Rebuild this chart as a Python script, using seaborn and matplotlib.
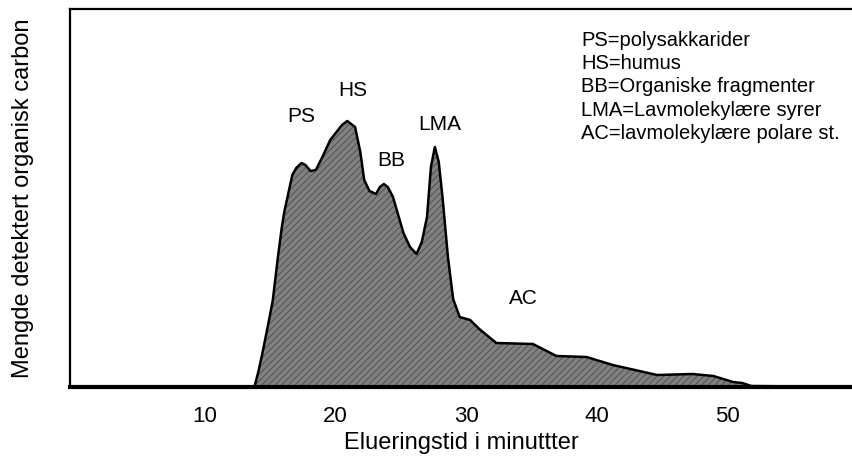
# -*- coding: utf-8 -*-
"""
Kromatogram - organisk carbon vs elueringstid
"""

import matplotlib
matplotlib.use("Agg")
import matplotlib.pyplot as plt
import seaborn as sns

# Elueringstid (min) og signal (vilkaarlige enheter), lest av figuren
time = [0, 13.8, 14.1, 14.4, 14.8, 15.2, 15.6, 15.9, 16.1, 16.5, 16.7, 17.0, 17.4, 17.7,
        18.1, 18.5, 19.0, 19.6, 20.5, 20.9, 21.5, 21.9, 22.2, 22.6, 23.1, 23.4, 23.7,
        24.0, 24.4, 25.2, 25.7, 26.2, 26.6, 27.0, 27.3, 27.6, 27.9, 28.2, 28.6, 29.0,
        29.5, 30.3, 31.0, 32.3, 35.1, 36.9, 39.2, 41.2, 44.6, 47.3, 48.9, 50.4, 51.1,
        51.8, 60]
signal = [0, 0, 15, 33, 59, 86, 130, 160, 176, 200, 212, 219, 224, 222,
          216, 217, 230, 247, 262, 266, 260, 235, 207, 196, 193, 200, 203,
          200, 190, 154, 140, 133, 145, 170, 220, 240, 225, 188, 130, 88,
          70, 67, 58, 44, 43, 31, 30, 22, 12, 13, 11, 5, 4,
          1, 0]

# Topp-etiketter
peak_names = ["PS", "HS", "BB", "LMA", "AC"]
peak_x = [17.35, 21.3, 24.3, 28.0, 34.4]
peak_y = [271, 296, 226, 263, 89]

legend_lines = ["PS=polysakkarider", "HS=humus", "BB=Organiske fragmenter",
                "LMA=Lavmolekylære syrer", "AC=lavmolekylære polare st."]

xticks = [10, 20, 30, 40, 50]

sns.set_style("white")
plt.rcParams['font.family'] = ['Liberation Sans', 'DejaVu Sans']
plt.rcParams['text.color'] = 'black'
plt.rcParams['axes.labelcolor'] = 'black'
plt.rcParams['xtick.color'] = 'black'
plt.rcParams['hatch.linewidth'] = 0.6

fig, ax = plt.subplots(figsize=(8.52, 4.58), dpi=100)
ax.set_position([70 / 852, 1 - 387 / 458, 782 / 852, 378 / 458])

# Skyggelagt areal under kurven
ax.fill_between(time, signal, 0, facecolor="#808080", edgecolor="#4a4a4a",
                hatch="/////", linewidth=0)
sns.lineplot(x=time, y=signal, color="black", linewidth=1.8, ax=ax)

for name, x, y in zip(peak_names, peak_x, peak_y):
    ax.text(x, y, name, fontsize=15, ha="center", va="center")

ax.text(38.8, 356, "\n".join(legend_lines), fontsize=14.5, ha="left", va="top",
        linespacing=1.28)

ax.set_xlim(-0.3, 59.5)
ax.set_ylim(0, 378)
ax.set_xticks(xticks)
ax.set_yticks([])
ax.tick_params(axis="x", length=0, pad=14, labelsize=16, labelcolor="black")

ax.set_xlabel("Elueringstid i minuttter", fontsize=17, labelpad=3)
ax.set_ylabel("Mengde detektert organisk carbon", fontsize=17, labelpad=26)

ax.spines["right"].set_visible(False)
ax.spines["left"].set_linewidth(1.6)
ax.spines["top"].set_linewidth(1.6)
ax.spines["bottom"].set_linewidth(3)
for s in ["left", "top", "bottom"]:
    ax.spines[s].set_color("black")

plt.savefig("out.png", dpi=100)
